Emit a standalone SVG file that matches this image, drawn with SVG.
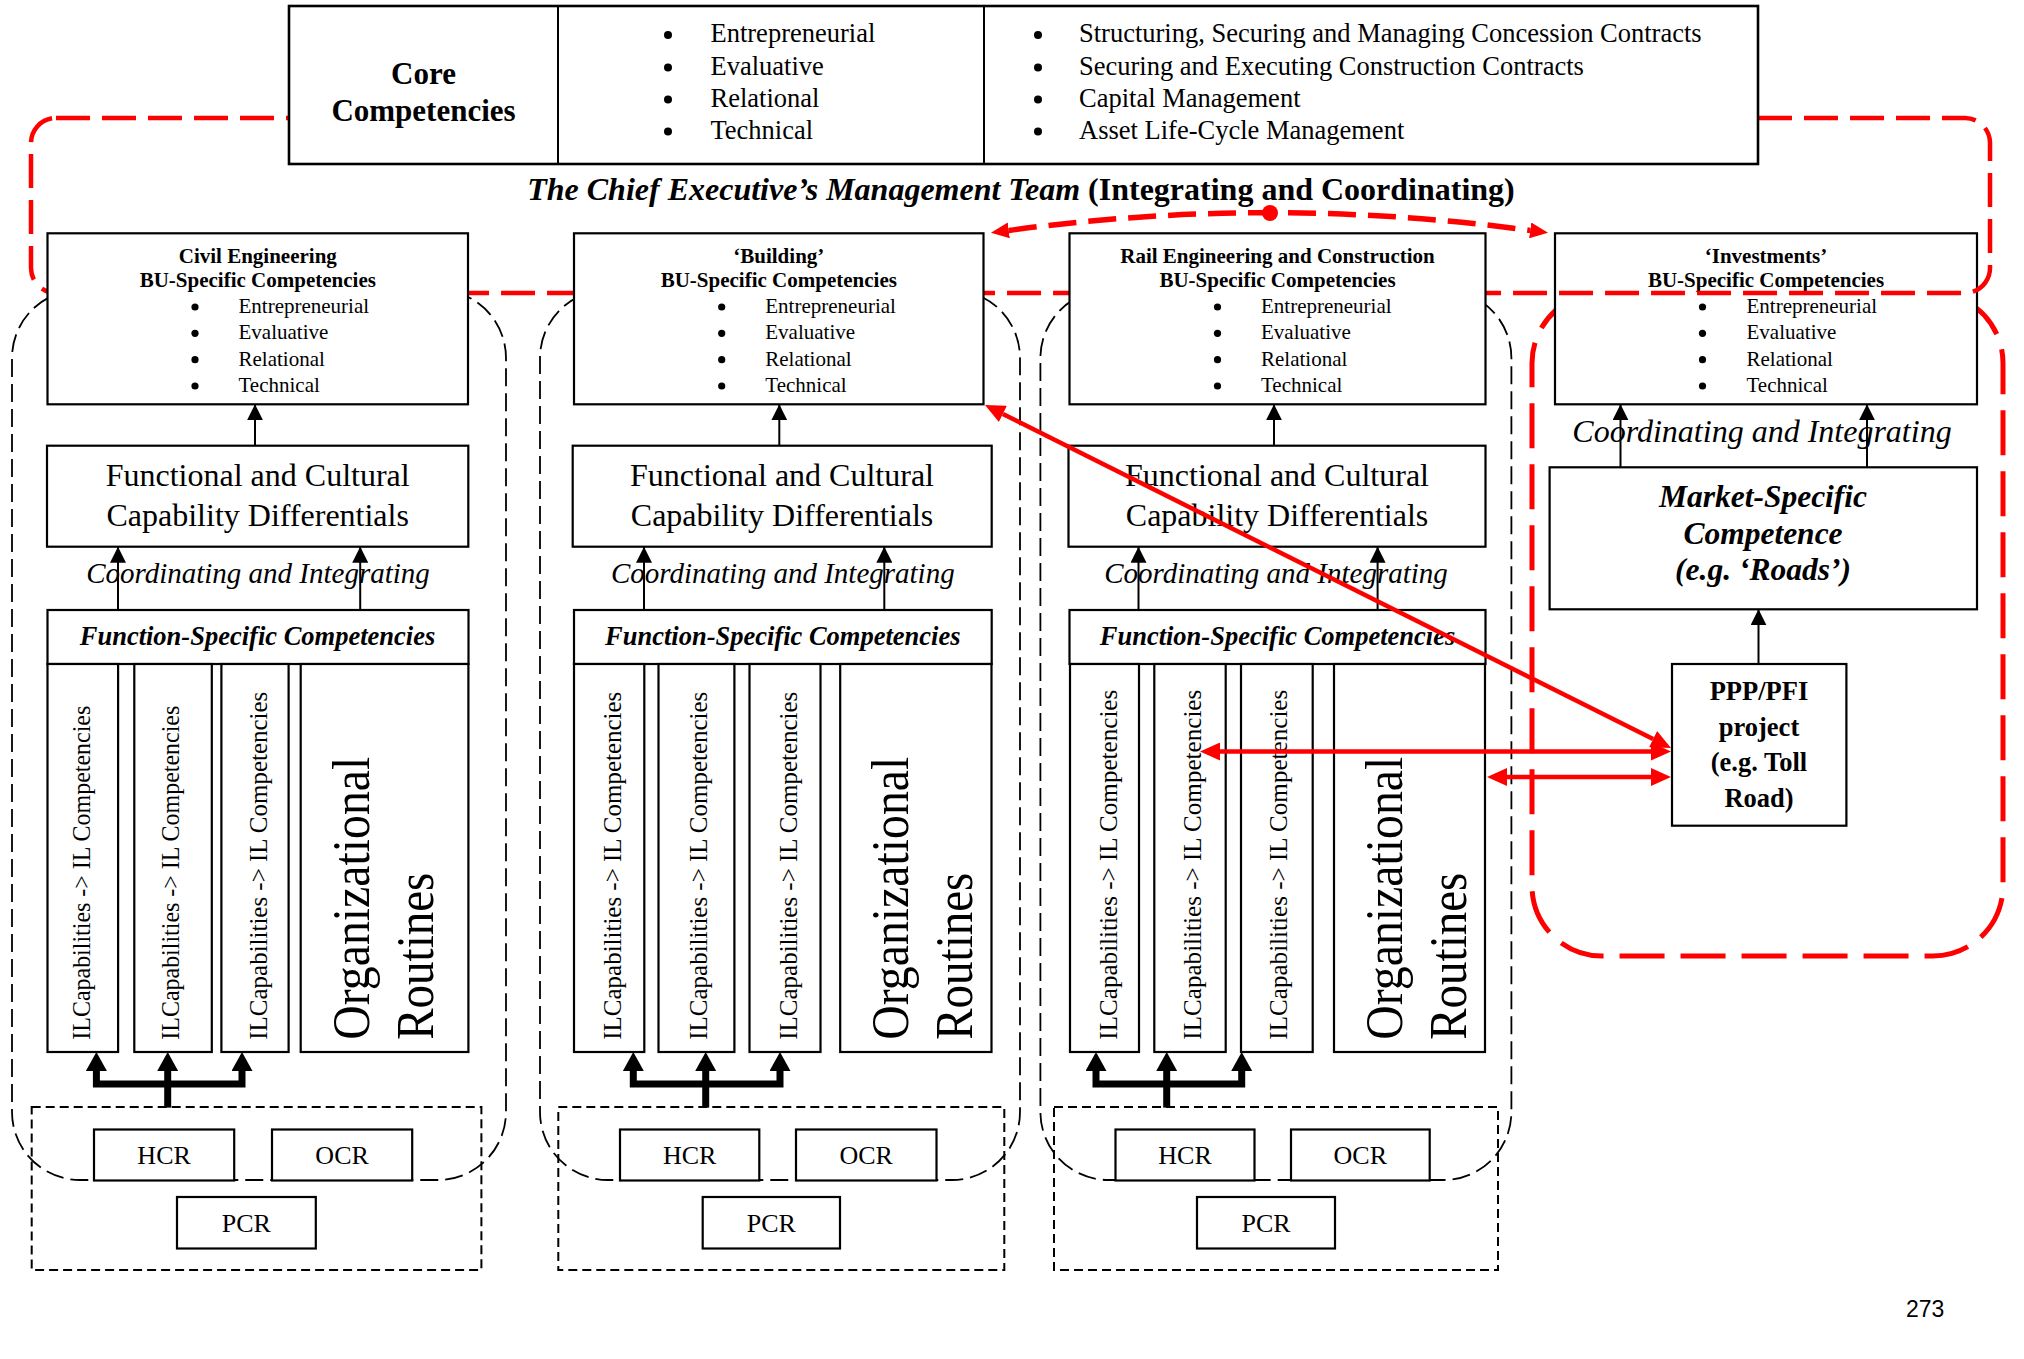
<svg xmlns="http://www.w3.org/2000/svg" width="2024" height="1359" viewBox="0 0 2024 1359">
<style>
.t{font-family:'Liberation Serif','Times New Roman',serif;fill:#000}
.b{font-weight:bold}
.i{font-style:italic}
.box{fill:#fff;stroke:#000;stroke-width:2.2}
.bnd{fill:none;stroke:#000;stroke-width:1.8;stroke-dasharray:18 7}
.grp{fill:none;stroke:#000;stroke-width:2;stroke-dasharray:9 5}
.red1{fill:none;stroke:#f00;stroke-width:4.5;stroke-dasharray:34 12}
.red2{fill:none;stroke:#f00;stroke-width:5;stroke-dasharray:45 16}
.conn{stroke:#000;stroke-width:2;fill:none;marker-end:url(#ah)}
.thick{stroke:#000;stroke-width:7;fill:none;stroke-linejoin:miter}
.rline{stroke:#f00;stroke-width:4.5;fill:none;marker-start:url(#ra);marker-end:url(#ra)}
.bu-t{font-size:21px}
.li{font-size:21px}
.fc{font-size:32px}
.ci{font-size:29px}
.fs{font-size:26.5px}
.il{font-size:26px}
.org{font-size:52px}
.cr{font-size:26px}
</style>
<defs>
<marker id="ah" viewBox="0 0 16 16" refX="16" refY="8" markerWidth="16" markerHeight="16" markerUnits="userSpaceOnUse" orient="auto"><path d="M0,0 L16,8 L0,16 z" fill="#000"/></marker>
<marker id="tah" viewBox="0 0 19 21" refX="0" refY="10.5" markerWidth="19" markerHeight="21" markerUnits="userSpaceOnUse" orient="auto-start-reverse"><path d="M0,0 L19,10.5 L0,21 z" fill="#000"/></marker>
<marker id="ra" viewBox="0 0 20 18" refX="0" refY="9" markerWidth="20" markerHeight="18" markerUnits="userSpaceOnUse" orient="auto-start-reverse"><path d="M0,0 L20,9 L0,18 z" fill="#f00"/></marker>
<marker id="rd" viewBox="0 0 18 16" refX="0" refY="8" markerWidth="18" markerHeight="16" markerUnits="userSpaceOnUse" orient="auto-start-reverse"><path d="M0,0 L18,8 L0,16 z" fill="#f00"/></marker>
</defs>

<!-- BU boundaries (black dashed) -->
<g id="boundaries">
<rect class="bnd" x="12" y="290" width="494" height="890" rx="68"/>
<rect class="bnd" x="540" y="290" width="480" height="890" rx="68"/>
<rect class="bnd" x="1040.4" y="290" width="471" height="890" rx="68"/>
<rect class="grp" x="31.7" y="1107" width="449.7" height="163"/>
<rect class="grp" x="558.3" y="1107" width="446" height="163"/>
<rect class="grp" x="1054" y="1107" width="444" height="163"/>
</g>

<!-- Investments red boundary -->
<rect id="inv-boundary" class="red2" x="1532" y="293" width="471" height="663" rx="70"/>

<!-- Investments BU -->
<g id="inv-bu">
<rect class="box" x="1555" y="233.3" width="422" height="171"/>
<text class="t b bu-t" x="1766" y="263" text-anchor="middle">‘Investments’</text>
<text class="t b bu-t" x="1766" y="287" text-anchor="middle">BU-Specific Competencies</text>
<g fill="#000"><circle cx="1702.5" cy="307" r="3.6"/><circle cx="1702.5" cy="333.3" r="3.6"/><circle cx="1702.5" cy="359.7" r="3.6"/><circle cx="1702.5" cy="386" r="3.6"/></g>
<text class="t li" x="1746.5" y="313">Entrepreneurial</text>
<text class="t li" x="1746.5" y="339.3">Evaluative</text>
<text class="t li" x="1746.5" y="365.7">Relational</text>
<text class="t li" x="1746.5" y="392">Technical</text>
</g>

<!-- CEO team red boundary -->
<rect id="ceo-boundary" class="red1" x="31" y="118" width="1959" height="175" rx="25"/>

<!-- Core competencies table -->
<g id="core">
<rect x="289" y="6" width="1469" height="158" fill="#fff" stroke="#000" stroke-width="2.6"/>
<line x1="558" y1="6" x2="558" y2="164" stroke="#000" stroke-width="2"/>
<line x1="984" y1="6" x2="984" y2="164" stroke="#000" stroke-width="2"/>
<text class="t b" font-size="31" x="423.5" y="84" text-anchor="middle">Core</text>
<text class="t b" font-size="31" x="423.5" y="121" text-anchor="middle">Competencies</text>
<g fill="#000"><circle cx="668" cy="35" r="4"/><circle cx="668" cy="67.5" r="4"/><circle cx="668" cy="99.5" r="4"/><circle cx="668" cy="131.5" r="4"/>
<circle cx="1038" cy="35" r="4"/><circle cx="1038" cy="67.5" r="4"/><circle cx="1038" cy="99.5" r="4"/><circle cx="1038" cy="131.5" r="4"/></g>
<g class="t" font-size="26.5">
<text x="710.5" y="42">Entrepreneurial</text>
<text x="710.5" y="74.5">Evaluative</text>
<text x="710.5" y="106.5">Relational</text>
<text x="710.5" y="138.5">Technical</text>
<text x="1079" y="42">Structuring, Securing and Managing Concession Contracts</text>
<text x="1079" y="74.5">Securing and Executing Construction Contracts</text>
<text x="1079" y="106.5">Capital Management</text>
<text x="1079" y="138.5">Asset Life-Cycle Management</text>
</g>
</g>

<text id="ceo-title" class="t b" font-size="32" x="1021" y="200" text-anchor="middle"><tspan font-style="italic">The Chief Executive’s Management Team</tspan> (Integrating and Coordinating)</text>

<!-- Civil Engineering -->
<g id="civil">
<rect class="box" x="47.5" y="233.3" width="420.5" height="171"/>
<text class="t b bu-t" x="257.8" y="263" text-anchor="middle">Civil Engineering</text>
<text class="t b bu-t" x="257.8" y="287" text-anchor="middle">BU-Specific Competencies</text>
<g fill="#000"><circle cx="195" cy="307" r="3.6"/><circle cx="195" cy="333.3" r="3.6"/><circle cx="195" cy="359.7" r="3.6"/><circle cx="195" cy="386" r="3.6"/></g>
<text class="t li" x="238.5" y="313">Entrepreneurial</text>
<text class="t li" x="238.5" y="339.3">Evaluative</text>
<text class="t li" x="238.5" y="365.7">Relational</text>
<text class="t li" x="238.5" y="392">Technical</text>
<rect class="box" x="47" y="445.7" width="421.3" height="101"/>
<text class="t fc" x="257.7" y="485.7" text-anchor="middle">Functional and Cultural</text>
<text class="t fc" x="257.7" y="526" text-anchor="middle">Capability Differentials</text>
<text class="t i ci" x="258" y="583" text-anchor="middle">Coordinating and Integrating</text>
<rect class="box" x="47.5" y="610" width="421" height="54"/>
<text class="t b i fs" x="257.5" y="645" text-anchor="middle">Function-Specific Competencies</text>
<rect class="box" x="47.5" y="664" width="70.6" height="388"/>
<rect class="box" x="134.3" y="664" width="77.5" height="388"/>
<rect class="box" x="221.4" y="664" width="67.2" height="388"/>
<rect class="box" x="300.7" y="664" width="167.7" height="388"/>
<text class="t il" transform="translate(90,1039.7) rotate(-90)" textLength="334" lengthAdjust="spacingAndGlyphs">ILCapabilities -&gt; IL Competencies</text>
<text class="t il" transform="translate(179,1039.7) rotate(-90)" textLength="334" lengthAdjust="spacingAndGlyphs">ILCapabilities -&gt; IL Competencies</text>
<text class="t il" transform="translate(267,1039.7) rotate(-90)" textLength="348" lengthAdjust="spacingAndGlyphs">ILCapabilities -&gt; IL Competencies</text>
<text class="t org" transform="translate(368.5,1039.7) rotate(-90)" textLength="283" lengthAdjust="spacingAndGlyphs">Organizational</text>
<text class="t org" transform="translate(432.5,1039.7) rotate(-90)" textLength="167" lengthAdjust="spacingAndGlyphs">Routines</text>
<rect class="box" x="94" y="1129.5" width="140.2" height="51"/>
<rect class="box" x="272" y="1129.5" width="140.2" height="51"/>
<rect class="box" x="177" y="1197" width="138.8" height="51.5"/>
<text class="t cr" x="164.1" y="1163.5" text-anchor="middle">HCR</text>
<text class="t cr" x="342.1" y="1163.5" text-anchor="middle">OCR</text>
<text class="t cr" x="246.4" y="1232" text-anchor="middle">PCR</text>
</g>

<!-- Building -->
<g id="building">
<rect class="box" x="574" y="233.3" width="409.5" height="171"/>
<text class="t b bu-t" x="778.8" y="263" text-anchor="middle">‘Building’</text>
<text class="t b bu-t" x="778.8" y="287" text-anchor="middle">BU-Specific Competencies</text>
<g fill="#000"><circle cx="721.7" cy="307" r="3.6"/><circle cx="721.7" cy="333.3" r="3.6"/><circle cx="721.7" cy="359.7" r="3.6"/><circle cx="721.7" cy="386" r="3.6"/></g>
<text class="t li" x="765.3" y="313">Entrepreneurial</text>
<text class="t li" x="765.3" y="339.3">Evaluative</text>
<text class="t li" x="765.3" y="365.7">Relational</text>
<text class="t li" x="765.3" y="392">Technical</text>
<rect class="box" x="572.7" y="445.7" width="419" height="101"/>
<text class="t fc" x="782" y="485.7" text-anchor="middle">Functional and Cultural</text>
<text class="t fc" x="782" y="526" text-anchor="middle">Capability Differentials</text>
<text class="t i ci" x="782.8" y="583" text-anchor="middle">Coordinating and Integrating</text>
<rect class="box" x="574" y="610" width="417.7" height="54"/>
<text class="t b i fs" x="782.8" y="645" text-anchor="middle">Function-Specific Competencies</text>
<rect class="box" x="574" y="664" width="70.3" height="388"/>
<rect class="box" x="658.5" y="664" width="75.9" height="388"/>
<rect class="box" x="749.5" y="664" width="71" height="388"/>
<rect class="box" x="840.2" y="664" width="151.3" height="388"/>
<text class="t il" transform="translate(621,1039.7) rotate(-90)" textLength="348" lengthAdjust="spacingAndGlyphs">ILCapabilities -&gt; IL Competencies</text>
<text class="t il" transform="translate(706.7,1039.7) rotate(-90)" textLength="348" lengthAdjust="spacingAndGlyphs">ILCapabilities -&gt; IL Competencies</text>
<text class="t il" transform="translate(796.7,1039.7) rotate(-90)" textLength="348" lengthAdjust="spacingAndGlyphs">ILCapabilities -&gt; IL Competencies</text>
<text class="t org" transform="translate(907.7,1039.7) rotate(-90)" textLength="283" lengthAdjust="spacingAndGlyphs">Organizational</text>
<text class="t org" transform="translate(971.7,1039.7) rotate(-90)" textLength="167" lengthAdjust="spacingAndGlyphs">Routines</text>
<rect class="box" x="620" y="1129.5" width="139.3" height="51"/>
<rect class="box" x="796" y="1129.5" width="140.5" height="51"/>
<rect class="box" x="702.7" y="1197" width="137.3" height="51.5"/>
<text class="t cr" x="689.7" y="1163.5" text-anchor="middle">HCR</text>
<text class="t cr" x="866.2" y="1163.5" text-anchor="middle">OCR</text>
<text class="t cr" x="771.3" y="1232" text-anchor="middle">PCR</text>
</g>

<!-- Rail -->
<g id="rail">
<rect class="box" x="1069.5" y="233.3" width="416" height="171"/>
<text class="t b bu-t" x="1277.5" y="263" text-anchor="middle">Rail Engineering and Construction</text>
<text class="t b bu-t" x="1277.5" y="287" text-anchor="middle">BU-Specific Competencies</text>
<g fill="#000"><circle cx="1217.5" cy="307" r="3.6"/><circle cx="1217.5" cy="333.3" r="3.6"/><circle cx="1217.5" cy="359.7" r="3.6"/><circle cx="1217.5" cy="386" r="3.6"/></g>
<text class="t li" x="1261" y="313">Entrepreneurial</text>
<text class="t li" x="1261" y="339.3">Evaluative</text>
<text class="t li" x="1261" y="365.7">Relational</text>
<text class="t li" x="1261" y="392">Technical</text>
<rect class="box" x="1068.5" y="445.7" width="417" height="101"/>
<text class="t fc" x="1277" y="485.7" text-anchor="middle">Functional and Cultural</text>
<text class="t fc" x="1277" y="526" text-anchor="middle">Capability Differentials</text>
<text class="t i ci" x="1276" y="583" text-anchor="middle">Coordinating and Integrating</text>
<rect class="box" x="1069.5" y="610" width="416" height="54"/>
<text class="t b i fs" x="1277.5" y="645" text-anchor="middle">Function-Specific Competencies</text>
<rect class="box" x="1070" y="664" width="69" height="388"/>
<rect class="box" x="1154.3" y="664" width="71.4" height="388"/>
<rect class="box" x="1241" y="664" width="71.7" height="388"/>
<rect class="box" x="1334" y="664" width="151" height="388"/>
<text class="t il" transform="translate(1117,1039.7) rotate(-90)" textLength="350" lengthAdjust="spacingAndGlyphs">ILCapabilities -&gt; IL Competencies</text>
<text class="t il" transform="translate(1200.7,1039.7) rotate(-90)" textLength="350" lengthAdjust="spacingAndGlyphs">ILCapabilities -&gt; IL Competencies</text>
<text class="t il" transform="translate(1287,1039.7) rotate(-90)" textLength="350" lengthAdjust="spacingAndGlyphs">ILCapabilities -&gt; IL Competencies</text>
<text class="t org" transform="translate(1401.5,1039.7) rotate(-90)" textLength="283" lengthAdjust="spacingAndGlyphs">Organizational</text>
<text class="t org" transform="translate(1465.5,1039.7) rotate(-90)" textLength="167" lengthAdjust="spacingAndGlyphs">Routines</text>
<rect class="box" x="1115.5" y="1129.5" width="139" height="51"/>
<rect class="box" x="1291" y="1129.5" width="138.7" height="51"/>
<rect class="box" x="1197" y="1197" width="138" height="51.5"/>
<text class="t cr" x="1185" y="1163.5" text-anchor="middle">HCR</text>
<text class="t cr" x="1360.3" y="1163.5" text-anchor="middle">OCR</text>
<text class="t cr" x="1266" y="1232" text-anchor="middle">PCR</text>
</g>

<!-- Investments market & project -->
<g id="market">
<rect class="box" x="1549.6" y="467.3" width="427.4" height="142"/>
<text class="t b i" font-size="31.5" x="1763" y="507" text-anchor="middle">Market-Specific</text>
<text class="t b i" font-size="31.5" x="1763" y="543.5" text-anchor="middle">Competence</text>
<text class="t b i" font-size="31.5" x="1763" y="580" text-anchor="middle">(e.g. ‘Roads’)</text>
</g>
<text class="t i" font-size="32" x="1762" y="441.5" text-anchor="middle">Coordinating and Integrating</text>
<g id="ppp">
<rect class="box" x="1672" y="664" width="174.4" height="161.7"/>
<text class="t b" font-size="26.5" x="1759" y="700" text-anchor="middle">PPP/PFI</text>
<text class="t b" font-size="26.5" x="1759" y="735.5" text-anchor="middle">project</text>
<text class="t b" font-size="26.5" x="1759" y="771" text-anchor="middle">(e.g. Toll</text>
<text class="t b" font-size="26.5" x="1759" y="806.5" text-anchor="middle">Road)</text>
</g>

<!-- Connectors -->
<g id="connectors">
<line class="conn" x1="255" y1="445.7" x2="255" y2="404.3"/>
<line class="conn" x1="779.3" y1="445.7" x2="779.3" y2="404.3"/>
<line class="conn" x1="1274" y1="445.7" x2="1274" y2="404.3"/>
<line class="conn" x1="118" y1="610" x2="118" y2="546.7"/>
<line class="conn" x1="360.2" y1="610" x2="360.2" y2="546.7"/>
<line class="conn" x1="644" y1="610" x2="644" y2="546.7"/>
<line class="conn" x1="884.3" y1="610" x2="884.3" y2="546.7"/>
<line class="conn" x1="1138.5" y1="610" x2="1138.5" y2="546.7"/>
<line class="conn" x1="1377.6" y1="610" x2="1377.6" y2="546.7"/>
<line class="conn" x1="1620.5" y1="467.3" x2="1620.5" y2="404.3"/>
<line class="conn" x1="1867" y1="467.3" x2="1867" y2="404.3"/>
<line class="conn" x1="1758.5" y1="664" x2="1758.5" y2="609.3"/>
<path class="thick" d="M96.4,1071 V1084 H242 V1071" marker-start="url(#tah)" marker-end="url(#tah)"/>
<path class="thick" d="M167.7,1107.6 V1071" marker-end="url(#tah)"/>
<path class="thick" d="M633.3,1071 V1084 H780 V1071" marker-start="url(#tah)" marker-end="url(#tah)"/>
<path class="thick" d="M705.7,1107.6 V1071" marker-end="url(#tah)"/>
<path class="thick" d="M1096,1071 V1084 H1241.7 V1071" marker-start="url(#tah)" marker-end="url(#tah)"/>
<path class="thick" d="M1166.7,1107.6 V1071" marker-end="url(#tah)"/>
<line class="rline" x1="1002.9" y1="413.9" x2="1653.1" y2="739.1"/>
<line class="rline" x1="1220" y1="751.5" x2="1651" y2="751.5"/>
<line class="rline" x1="1507" y1="777" x2="1651" y2="777"/>
<path d="M1008.8,230.4 Q1270,195 1530.2,230.4" fill="none" stroke="#f00" stroke-width="5.5" stroke-dasharray="28 12" marker-start="url(#rd)" marker-end="url(#rd)"/>
<circle cx="1270" cy="213" r="8" fill="#f00"/>
</g>

<text class="pg" font-family="'Liberation Sans',Arial,sans-serif" font-size="23" x="1906" y="1317">273</text>
</svg>
